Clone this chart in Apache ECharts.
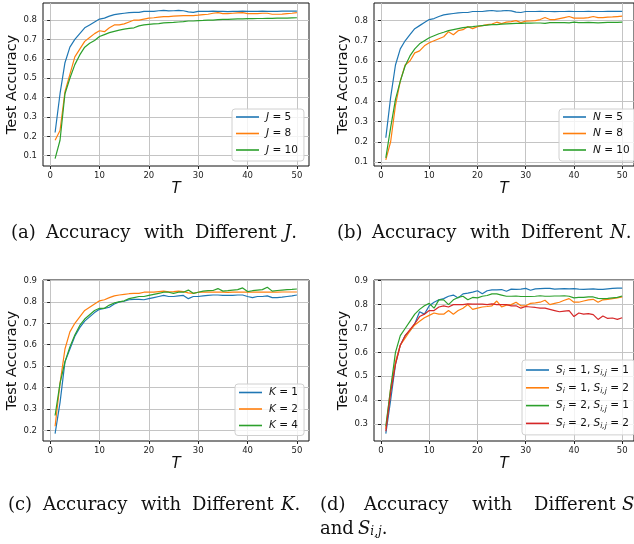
<!DOCTYPE html>
<html>
<head>
<meta charset="utf-8">
<script src="https://cdn.jsdelivr.net/npm/echarts@6/dist/echarts.min.js"></script>
<style>
html, body { margin: 0; padding: 0; background: #fff; }
#main { width: 634px; height: 544px; }
</style>
</head>
<body>
<div id="main"></div>
<script>
var T = [1, 2, 3, 4, 5, 6, 7, 8, 9, 10, 11, 12, 13, 14, 15, 16, 17, 18, 19, 20,
    21, 22, 23, 24, 25, 26, 27, 28, 29, 30, 31, 32, 33, 34, 35, 36, 37, 38, 39, 40,
    41, 42, 43, 44, 45, 46, 47, 48, 49, 50];
var xTicks = [0, 10, 20, 30, 40, 50];

// baseline run (J=5, N=5, K=2)
var accBase = [0.22, 0.42, 0.58, 0.66, 0.70, 0.73, 0.76, 0.775, 0.79, 0.805,
    0.81, 0.82, 0.828, 0.832, 0.835, 0.838, 0.84, 0.84, 0.845, 0.845,
    0.845, 0.848, 0.85, 0.847, 0.848, 0.85, 0.848, 0.842, 0.84, 0.845,
    0.845, 0.845, 0.846, 0.845, 0.845, 0.844, 0.845, 0.845, 0.846, 0.845,
    0.845, 0.845, 0.846, 0.845, 0.845, 0.845, 0.846, 0.846, 0.846, 0.846];
var accJ8 = [0.18, 0.23, 0.43, 0.52, 0.61, 0.65, 0.69, 0.71, 0.73, 0.745,
    0.74, 0.76, 0.775, 0.775, 0.78, 0.79, 0.80, 0.80, 0.805, 0.81,
    0.812, 0.815, 0.818, 0.818, 0.82, 0.822, 0.823, 0.823, 0.823, 0.825,
    0.828, 0.83, 0.835, 0.838, 0.833, 0.833, 0.835, 0.837, 0.838, 0.833,
    0.833, 0.833, 0.835, 0.835, 0.83, 0.83, 0.831, 0.833, 0.835, 0.838];
var accJ10 = [0.085, 0.18, 0.42, 0.50, 0.57, 0.62, 0.66, 0.68, 0.695, 0.715,
    0.725, 0.735, 0.742, 0.748, 0.753, 0.757, 0.76, 0.77, 0.775, 0.778,
    0.78, 0.782, 0.785, 0.787, 0.788, 0.79, 0.792, 0.795, 0.795, 0.797,
    0.798, 0.80, 0.80, 0.802, 0.803, 0.804, 0.805, 0.806, 0.806, 0.807,
    0.807, 0.808, 0.808, 0.809, 0.809, 0.81, 0.81, 0.81, 0.811, 0.812];
var accN8 = [0.11, 0.2, 0.38, 0.50, 0.58, 0.60, 0.64, 0.65, 0.675, 0.69,
    0.70, 0.71, 0.72, 0.745, 0.73, 0.75, 0.755, 0.77, 0.76, 0.77,
    0.775, 0.78, 0.783, 0.792, 0.785, 0.792, 0.795, 0.80, 0.79, 0.797,
    0.798, 0.80, 0.805, 0.815, 0.805, 0.805, 0.81, 0.815, 0.82, 0.812,
    0.812, 0.812, 0.815, 0.82, 0.815, 0.815, 0.817, 0.818, 0.82, 0.822];
var accN10 = [0.12, 0.27, 0.41, 0.50, 0.575, 0.625, 0.66, 0.685, 0.70, 0.715,
    0.725, 0.735, 0.742, 0.75, 0.755, 0.76, 0.765, 0.768, 0.77, 0.773,
    0.775, 0.777, 0.78, 0.78, 0.782, 0.784, 0.785, 0.786, 0.786, 0.787,
    0.787, 0.788, 0.788, 0.786, 0.79, 0.79, 0.79, 0.79, 0.789, 0.792,
    0.79, 0.79, 0.791, 0.79, 0.789, 0.79, 0.791, 0.791, 0.791, 0.792];
var accK1 = [0.185, 0.33, 0.52, 0.58, 0.64, 0.68, 0.71, 0.73, 0.75, 0.765,
    0.77, 0.775, 0.79, 0.80, 0.803, 0.81, 0.812, 0.812, 0.81, 0.815,
    0.82, 0.825, 0.83, 0.825, 0.825, 0.828, 0.83, 0.815, 0.825, 0.825,
    0.828, 0.83, 0.832, 0.832, 0.83, 0.83, 0.83, 0.832, 0.832, 0.825,
    0.82, 0.825, 0.825, 0.828, 0.82, 0.82, 0.822, 0.825, 0.828, 0.832];
var accK4 = [0.27, 0.42, 0.52, 0.59, 0.645, 0.69, 0.72, 0.74, 0.76, 0.77,
    0.77, 0.785, 0.795, 0.80, 0.805, 0.815, 0.82, 0.825, 0.825, 0.83,
    0.835, 0.84, 0.845, 0.845, 0.84, 0.845, 0.845, 0.855, 0.84, 0.845,
    0.85, 0.852, 0.853, 0.862, 0.85, 0.852, 0.855, 0.857, 0.865, 0.848,
    0.852, 0.855, 0.857, 0.868, 0.85, 0.853, 0.855, 0.857, 0.858, 0.86];
var accS11 = [0.26, 0.40, 0.55, 0.63, 0.67, 0.69, 0.72, 0.77, 0.76, 0.795,
    0.81, 0.82, 0.825, 0.835, 0.84, 0.828, 0.845, 0.848, 0.852, 0.858,
    0.845, 0.858, 0.862, 0.862, 0.863, 0.856, 0.865, 0.864, 0.865, 0.868,
    0.86, 0.866, 0.867, 0.868, 0.868, 0.865, 0.866, 0.867, 0.866, 0.867,
    0.865, 0.864, 0.865, 0.866, 0.864, 0.864, 0.866, 0.868, 0.869, 0.869];
var accS12 = [0.28, 0.45, 0.56, 0.63, 0.66, 0.69, 0.715, 0.73, 0.745, 0.755,
    0.765, 0.76, 0.76, 0.775, 0.76, 0.775, 0.785, 0.80, 0.78, 0.785,
    0.79, 0.792, 0.795, 0.815, 0.79, 0.798, 0.80, 0.81, 0.795, 0.795,
    0.805, 0.807, 0.81, 0.818, 0.80, 0.805, 0.81, 0.818, 0.825, 0.81,
    0.81, 0.815, 0.82, 0.822, 0.81, 0.82, 0.822, 0.825, 0.828, 0.832];
var accS21 = [0.29, 0.45, 0.60, 0.67, 0.70, 0.73, 0.76, 0.78, 0.795, 0.805,
    0.785, 0.82, 0.82, 0.80, 0.82, 0.83, 0.835, 0.82, 0.83, 0.828,
    0.835, 0.838, 0.845, 0.845, 0.84, 0.835, 0.835, 0.836, 0.834, 0.834,
    0.834, 0.835, 0.837, 0.835, 0.835, 0.836, 0.836, 0.837, 0.835, 0.828,
    0.83, 0.83, 0.832, 0.832, 0.826, 0.825, 0.826, 0.828, 0.83, 0.836];
var accS22 = [0.27, 0.43, 0.55, 0.63, 0.67, 0.695, 0.72, 0.75, 0.76, 0.775,
    0.775, 0.79, 0.795, 0.79, 0.80, 0.80, 0.80, 0.803, 0.802, 0.802,
    0.802, 0.80, 0.803, 0.80, 0.80, 0.80, 0.795, 0.795, 0.785, 0.792,
    0.79, 0.788, 0.785, 0.785, 0.78, 0.775, 0.77, 0.773, 0.775, 0.75,
    0.765, 0.76, 0.762, 0.758, 0.738, 0.752, 0.742, 0.744, 0.738, 0.745];

var colors = ['#1f77b4', '#ff7f0e', '#2ca02c', '#d62728'];
var sansFont = 'DejaVu Sans';
var serifFont = 'DejaVu Serif';
var capSize = 18;

var panels = [
    {grid: {left: 43, top: 3, width: 266, height: 163}, yMin: 0.047, yMax: 0.888,
        yTicks: [0.1, 0.2, 0.3, 0.4, 0.5, 0.6, 0.7, 0.8],
        names: ['J = 5', 'J = 8', 'J = 10'], data: [accBase, accJ8, accJ10],
        legend: {left: 232, top: 109, gap: 2.5, padding: [1, 6, 4, 4]}},
    {grid: {left: 374, top: 3, width: 266, height: 163}, yMin: 0.08, yMax: 0.887,
        yTicks: [0.1, 0.2, 0.3, 0.4, 0.5, 0.6, 0.7, 0.8],
        names: ['N = 5', 'N = 8', 'N = 10'], data: [accBase, accN8, accN10],
        legend: {left: 559, top: 109, gap: 2.5, padding: [1, 6, 4, 4]}},
    {grid: {left: 43, top: 280, width: 266, height: 161}, yMin: 0.151, yMax: 0.902,
        yTicks: [0.2, 0.3, 0.4, 0.5, 0.6, 0.7, 0.8, 0.9],
        names: ['K = 1', 'K = 2', 'K = 4'], data: [accK1, accBase, accK4],
        legend: {left: 235, top: 384, gap: 2.5, padding: [1.5, 6, 3, 4]}},
    {grid: {left: 374, top: 280, width: 266, height: 161}, yMin: 0.229, yMax: 0.903,
        yTicks: [0.3, 0.4, 0.5, 0.6, 0.7, 0.8, 0.9],
        names: ['S1 1', 'S1 2', 'S2 1', 'S2 2'], data: [accS11, accS12, accS21, accS22],
        legend: {left: 522, top: 360, gap: 3.8, padding: [3, 6, 4.5, 4]}}
];

var legendLabels = {
    'J = 5': '{i|J} = 5', 'J = 8': '{i|J} = 8', 'J = 10': '{i|J} = 10',
    'N = 5': '{i|N} = 5', 'N = 8': '{i|N} = 8', 'N = 10': '{i|N} = 10',
    'K = 1': '{i|K} = 1', 'K = 2': '{i|K} = 2', 'K = 4': '{i|K} = 4',
    'S1 1': '{i|S}{s|i} = 1, {i|S}{s|i,j} = 1',
    'S1 2': '{i|S}{s|i} = 1, {i|S}{s|i,j} = 2',
    'S2 1': '{i|S}{s|i} = 2, {i|S}{s|i,j} = 1',
    'S2 2': '{i|S}{s|i} = 2, {i|S}{s|i,j} = 2'
};

function pairs(ys) {
    return T.map(function (t, i) { return [t, ys[i]]; });
}

var grids = [], xAxes = [], yAxes = [], series = [], legends = [];
panels.forEach(function (p, k) {
    grids.push(Object.assign({show: true, borderColor: '#111', borderWidth: 1, backgroundColor: '#fff'}, p.grid));
    xAxes.push({
        type: 'value', gridIndex: k, min: -1.45, max: 52.45,
        name: 'T', nameLocation: 'middle', nameGap: 16,
        nameTextStyle: {fontFamily: sansFont, fontStyle: 'italic', fontSize: 15, color: '#111'},
        axisLine: {show: false},
        axisTick: {show: true, length: 3, customValues: xTicks, lineStyle: {color: '#222'}},
        axisLabel: {customValues: xTicks, margin: 5, fontFamily: sansFont, fontSize: 8.5, color: '#222'},
        splitLine: {show: true, lineStyle: {color: '#c4c4c4', width: 1}}
    });
    yAxes.push({
        type: 'value', gridIndex: k, min: p.yMin, max: p.yMax,
        name: 'Test Accuracy', nameLocation: 'middle', nameGap: 23,
        nameTextStyle: {fontFamily: sansFont, fontSize: 14.5, color: '#111'},
        axisLine: {show: false},
        axisTick: {show: true, length: 3, customValues: p.yTicks, lineStyle: {color: '#222'}},
        axisLabel: {customValues: p.yTicks, margin: 6, fontFamily: sansFont, fontSize: 8.5, color: '#222',
            formatter: function (v) { return v.toFixed(1); }},
        splitLine: {show: true, lineStyle: {color: '#c4c4c4', width: 1}}
    });
    p.names.forEach(function (name, j) {
        series.push({
            name: name, type: 'line', xAxisIndex: k, yAxisIndex: k,
            data: pairs(p.data[j]), symbol: 'none', showSymbol: false,
            lineStyle: {color: colors[j], width: 1.2}, itemStyle: {color: colors[j]},
            emphasis: {disabled: true}
        });
    });
    legends.push({
        data: p.names, orient: 'vertical', left: p.legend.left, top: p.legend.top,
        icon: 'rect', itemWidth: 23, itemHeight: 1.6, itemGap: p.legend.gap,
        padding: p.legend.padding,
        backgroundColor: 'rgba(255,255,255,0.8)', borderColor: '#d0d0d0', borderWidth: 1, borderRadius: 3,
        selectedMode: false,
        formatter: function (name) { return legendLabels[name]; },
        textStyle: {
            fontFamily: sansFont, fontSize: 10.5, color: '#111', lineHeight: 14, padding: [0, 0, 0, 2],
            rich: {
                i: {fontFamily: sansFont, fontStyle: 'italic', fontSize: 10.5, color: '#111', lineHeight: 14},
                s: {fontFamily: sansFont, fontStyle: 'italic', fontSize: 7.5, color: '#111', lineHeight: 8, verticalAlign: 'bottom'}
            }
        }
    });
});

// caption words: [text, x, baseline y]
var captionWords = [
    ['(a)', 11, 239], ['Accuracy', 46, 239], ['with', 144, 239], ['Different', 195, 239], ['{i|J}.', 284, 239],
    ['(b)', 337, 239], ['Accuracy', 372, 239], ['with', 470, 239], ['Different', 521, 239], ['{i|N}.', 610, 239],
    ['(c)', 8, 511], ['Accuracy', 43, 511], ['with', 141, 511], ['Different', 192, 511], ['{i|K}.', 281, 511],
    ['(d)', 320, 511], ['Accuracy', 364, 511], ['with', 472, 511], ['Different', 534, 511], ['{i|S}', 622, 511],
    ['and', 320, 535], ['{i|S}{s|i,j}.', 358, 535]
];
var captionRich = {
    i: {fontFamily: serifFont, fontStyle: 'italic', fontSize: capSize, color: '#111', lineHeight: capSize},
    s: {fontFamily: serifFont, fontStyle: 'italic', fontSize: 12, color: '#111', lineHeight: 7, verticalAlign: 'bottom'}
};
var graphics = captionWords.map(function (w) {
    return {
        type: 'text', left: w[1], top: w[2] - 15, silent: true,
        style: {text: w[0], fontFamily: serifFont, fontSize: capSize, lineHeight: capSize, fill: '#111', rich: captionRich}
    };
});

var myChart = echarts.init(document.getElementById('main'));
myChart.setOption({
    animation: false,
    grid: grids,
    xAxis: xAxes,
    yAxis: yAxes,
    legend: legends,
    series: series,
    graphic: graphics
});
</script>
</body>
</html>
